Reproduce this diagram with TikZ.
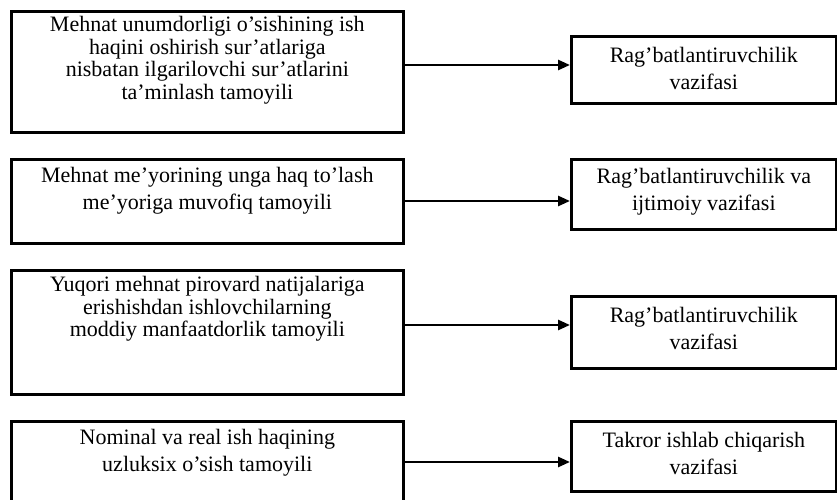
\documentclass[tikz,border=0pt]{standalone}
\usepackage{fontspec}
\setmainfont{Liberation Serif}
\usetikzlibrary{arrows.meta}
\begin{document}
\begin{tikzpicture}[x=1bp,y=-1bp,
  frame/.style={draw=black,line width=2.7bp,rectangle,inner sep=0pt,anchor=north west},
  boxtext/.style={anchor=north,align=center,inner sep=0pt,
    font=\fontsize{22bp}{22.7bp}\selectfont},
  widetext/.style={boxtext,font=\fontsize{22bp}{27bp}\selectfont},
  arr/.style={draw=black,line width=2.6bp,-{Triangle[length=12bp,width=10bp]}}]
\useasboundingbox (0,0) rectangle (837,500);
\clip (0,0) rectangle (837,500);

% principle boxes (left column)
\node[frame,minimum width=392bp,minimum height=121bp] (L1) at (10,10) {};
\node[frame,minimum width=392bp,minimum height=84bp]  (L2) at (10,158) {};
\node[frame,minimum width=392bp,minimum height=124bp] (L3) at (10,269) {};
\node[frame,minimum width=392bp,minimum height=84bp]  (L4) at (10,420) {};

\node[boxtext] (L1t) at ([yshift=-6bp]L1.north)
  {Mehnat unumdorligi o’sishining ish\\haqini oshirish sur’atlariga\\nisbatan ilgarilovchi sur’atlarini\\ta’minlash tamoyili};
\node[widetext] (L2t) at ([yshift=-9bp]L2.north)
  {Mehnat me’yorining unga haq to’lash\\me’yoriga muvofiq tamoyili};
\node[boxtext] (L3t) at ([yshift=-7bp]L3.north)
  {Yuqori mehnat pirovard natijalariga\\erishishdan ishlovchilarning\\moddiy manfaatdorlik tamoyili};
\node[widetext] (L4t) at ([yshift=-9bp]L4.north)
  {Nominal va real ish haqining\\uzluksix o’sish tamoyili};

% function boxes (right column)
\node[frame,minimum width=265bp,minimum height=67bp] (R1) at (570,35) {};
\node[frame,minimum width=265bp,minimum height=70bp] (R2) at (570,158) {};
\node[frame,minimum width=265bp,minimum height=72bp] (R3) at (570,295) {};
\node[frame,minimum width=265bp,minimum height=70bp] (R4) at (570,420) {};

\node[widetext] (R1t) at ([yshift=-12bp]R1.north)
  {Rag’batlantiruvchilik\\vazifasi};
\node[widetext] (R2t) at ([yshift=-10bp]R2.north)
  {Rag’batlantiruvchilik va\\ijtimoiy vazifasi};
\node[widetext] (R3t) at ([yshift=-12bp]R3.north)
  {Rag’batlantiruvchilik\\vazifasi};
\node[widetext] (R4t) at ([yshift=-12bp]R4.north)
  {Takror ishlab chiqarish\\vazifasi};

% connectors
\draw[arr] (L1.east |- 0,65)  -- (R1.west |- 0,65);
\draw[arr] (L2.east |- 0,201) -- (R2.west |- 0,201);
\draw[arr] (L3.east |- 0,325) -- (R3.west |- 0,325);
\draw[arr] (L4.east |- 0,462) -- (R4.west |- 0,462);
\end{tikzpicture}
\end{document}
